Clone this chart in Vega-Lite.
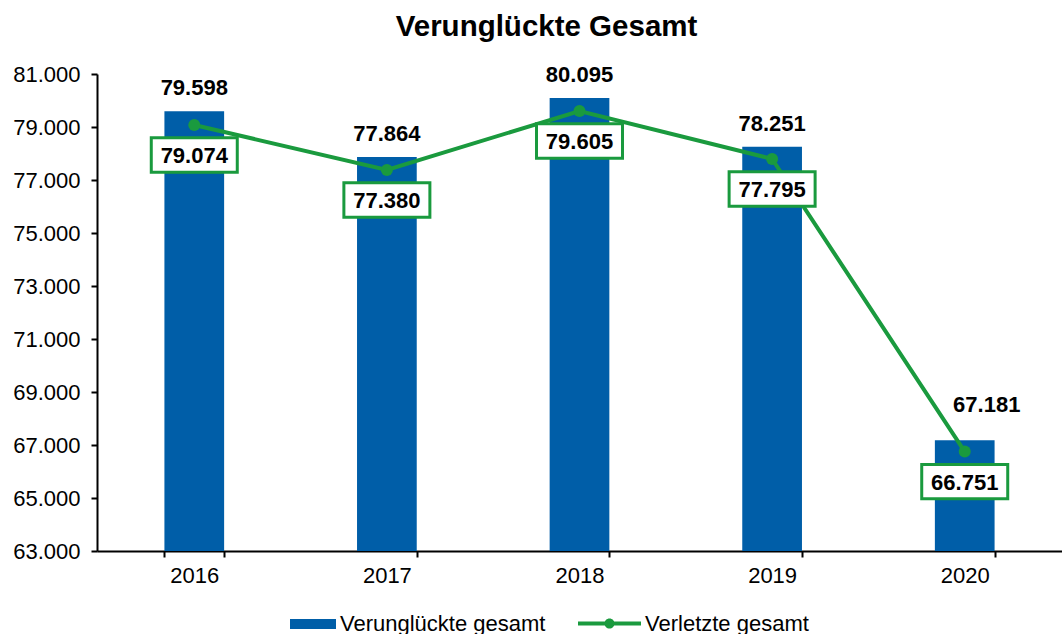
{
  "$schema": "https://vega.github.io/schema/vega-lite/v6.json",
  "autosize": "none",
  "padding": {"left": 97, "top": 74, "right": 0, "bottom": 83},
  "width": 965,
  "height": 477,
  "background": "white",
  "config": {
    "locale": {"number": {"decimal": ",", "thousands": ".", "grouping": [3], "currency": ["", " €"]}},
    "font": "Liberation Sans",
    "view": {"stroke": null},
    "axis": {"grid": false, "domainColor": "black", "tickColor": "black", "labelColor": "black", "labelFont": "Liberation Sans", "labelFontSize": 22, "domainWidth": 2, "tickWidth": 2, "tickSize": 6, "title": null}
  },
  "title": {"text": "Verunglückte Gesamt", "fontSize": 29.5, "fontWeight": "bold", "font": "Liberation Sans", "color": "black", "anchor": "middle", "frame": "group", "dx": -33, "offset": 21},
  "data": {"values": [
    {"jahr": "2016", "verunglueckte": 79598, "verletzte": 79074},
    {"jahr": "2017", "verunglueckte": 77864, "verletzte": 77380},
    {"jahr": "2018", "verunglueckte": 80095, "verletzte": 79605},
    {"jahr": "2019", "verunglueckte": 78251, "verletzte": 77795},
    {"jahr": "2020", "verunglueckte": 67181, "verletzte": 66751}
  ]},
  "encoding": {
    "x": {"field": "jahr", "type": "nominal", "scale": {"paddingInner": 0.69, "paddingOuter": 0.35}, "axis": {"labelAngle": 0, "tickBand": "extent", "labelPadding": 8, "title": null}}
  },
  "layer": [
    {
      "mark": {"type": "bar"},
      "encoding": {
        "y": {"field": "verunglueckte", "type": "quantitative", "scale": {"domain": [63000, 81000], "nice": false, "zero": false}, "axis": {"values": [63000, 65000, 67000, 69000, 71000, 73000, 75000, 77000, 79000, 81000], "format": ",d", "labelPadding": 11, "title": null}},
        "y2": {"datum": 63000},
        "fill": {"datum": "Verunglückte gesamt", "type": "nominal", "scale": {"range": ["#005EA8"]}, "legend": {"orient": "none", "legendX": 193, "legendY": 527, "title": null, "symbolType": "M-1,-0.22H1V0.22H-1Z", "symbolSize": 2116, "symbolStrokeWidth": 0, "labelFontSize": 22, "labelLimit": 0, "labelColor": "black", "labelFont": "Liberation Sans", "labelOffset": 4, "padding": 0}}
      }
    },
    {
      "transform": [{"filter": "datum.jahr != '2020'"}],
      "mark": {"type": "text", "font": "Liberation Sans", "fontSize": 22, "fontWeight": "bold", "color": "black", "baseline": "alphabetic", "dy": -16},
      "encoding": {
        "y": {"field": "verunglueckte", "type": "quantitative"},
        "text": {"field": "verunglueckte", "type": "quantitative", "format": ",d"}
      }
    },
    {
      "transform": [{"filter": "datum.jahr == '2020'"}],
      "mark": {"type": "text", "font": "Liberation Sans", "fontSize": 22, "fontWeight": "bold", "color": "black", "baseline": "alphabetic", "dy": -28, "dx": 22},
      "encoding": {
        "y": {"field": "verunglueckte", "type": "quantitative"},
        "text": {"field": "verunglueckte", "type": "quantitative", "format": ",d"}
      }
    },
    {
      "mark": {"type": "line", "strokeWidth": 4},
      "encoding": {
        "y": {"field": "verletzte", "type": "quantitative"},
        "stroke": {"datum": "Verletzte gesamt", "type": "nominal", "scale": {"range": ["#1A9A3E"]}, "legend": {"orient": "none", "legendX": 481, "legendY": 518, "title": null, "symbolType": "M-1,-0.065H-0.1V0.065H-1Z M0.1,-0.065H1V0.065H0.1Z M-0.16,0A0.16,0.16 0 1,1 0.16,0A0.16,0.16 0 1,1 -0.16,0Z", "symbolSize": 3969, "symbolStrokeWidth": 0, "symbolFillColor": "#1A9A3E", "labelFontSize": 22, "labelLimit": 0, "labelColor": "black", "labelFont": "Liberation Sans", "labelOffset": 4, "padding": 0, "encode": {"symbols": {"update": {"fill": {"value": "#1A9A3E"}, "strokeWidth": {"value": 0}}}}}}
      }
    },
    {
      "mark": {"type": "point", "filled": true, "size": 144, "color": "#1A9A3E", "opacity": 1},
      "encoding": {
        "y": {"field": "verletzte", "type": "quantitative"}
      }
    },
    {
      "mark": {"type": "point", "shape": "M-1,-0.4H1V0.4H-1Z", "size": 7396, "filled": true, "fill": "white", "stroke": "#1A9A3E", "strokeWidth": 3, "yOffset": 30, "opacity": 1},
      "encoding": {
        "y": {"field": "verletzte", "type": "quantitative"}
      }
    },
    {
      "mark": {"type": "text", "font": "Liberation Sans", "fontSize": 22, "fontWeight": "bold", "color": "black", "baseline": "alphabetic", "dy": 38},
      "encoding": {
        "y": {"field": "verletzte", "type": "quantitative"},
        "text": {"field": "verletzte", "type": "quantitative", "format": ",d"}
      }
    }
  ]
}
